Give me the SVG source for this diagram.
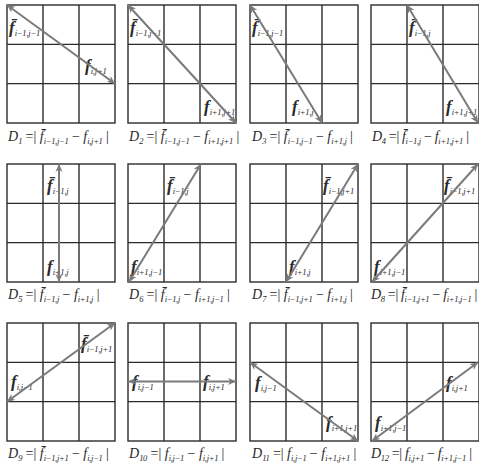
<svg xmlns="http://www.w3.org/2000/svg" width="479" height="470" viewBox="0 0 479 470">
<defs>
<style>
.g rect{fill:none;stroke:#2b2b2b;stroke-width:1.4}
.g line{stroke:#2b2b2b;stroke-width:1.4}
.arr line{stroke:#7a7a7a;stroke-width:2;marker-start:url(#ah);marker-end:url(#ah)}
text{font-family:"Liberation Serif","Times New Roman",serif;fill:#2a2a2a}
.lbl{font-size:17px;font-style:italic;font-weight:bold}
.s{font-size:8.5px;font-weight:normal;font-style:italic;letter-spacing:-0.2px}
.eq{font-size:14px}
.c4{letter-spacing:-0.35px}
.it{font-style:italic}
.es{font-size:8.5px;font-style:italic;letter-spacing:-0.3px}
</style>
<marker id="ah" viewBox="0 0 10 10" refX="10" refY="5" markerWidth="4" markerHeight="4" orient="auto-start-reverse">
<path d="M0,0.5 L10,5 L0,9.5 L3,5 z" fill="#7a7a7a"/>
</marker>
<g id="grid" class="g">
<rect x="0" y="0" width="108" height="118"/>
<line x1="36" y1="0" x2="36" y2="118"/>
<line x1="72" y1="0" x2="72" y2="118"/>
<line x1="0" y1="39.33" x2="108" y2="39.33"/>
<line x1="0" y1="78.67" x2="108" y2="78.67"/>
</g>
</defs>
<rect width="479" height="470" fill="#ffffff"/>

<g id="p1"><use href="#grid" x="7" y="5"/>
<text class="lbl" x="9" y="33">f&#x0304;<tspan class="s" dy="3">i−1,j−1</tspan></text>
<text class="lbl" x="85" y="71">f<tspan class="s" dy="3">i,j+1</tspan></text>
<text class="eq" x="8" y="141"><tspan class="it">D</tspan><tspan class="es" dy="3">1</tspan><tspan dy="-3"> =| </tspan><tspan class="it">f&#x0304;</tspan><tspan class="es" dy="3">i−1,j−1</tspan><tspan dy="-3"> − </tspan><tspan class="it">f</tspan><tspan class="es" dy="3">i,j+1</tspan><tspan dy="-3"> |</tspan></text>
</g>
<g id="p2"><use href="#grid" x="128" y="5"/>
<text class="lbl" x="130" y="33">f&#x0304;<tspan class="s" dy="3">i−1,j−1</tspan></text>
<text class="lbl" x="204" y="112">f<tspan class="s" dy="3">i+1,j+1</tspan></text>
<text class="eq" x="129" y="141"><tspan class="it">D</tspan><tspan class="es" dy="3">2</tspan><tspan dy="-3"> =| </tspan><tspan class="it">f&#x0304;</tspan><tspan class="es" dy="3">i−1,j−1</tspan><tspan dy="-3"> − </tspan><tspan class="it">f</tspan><tspan class="es" dy="3">i+1,j+1</tspan><tspan dy="-3"> |</tspan></text>
</g>
<g id="p3"><use href="#grid" x="250" y="5"/>
<text class="lbl" x="252" y="33">f&#x0304;<tspan class="s" dy="3">i−1,j−1</tspan></text>
<text class="lbl" x="292" y="112">f<tspan class="s" dy="3">i+1,j</tspan></text>
<text class="eq" x="252" y="141"><tspan class="it">D</tspan><tspan class="es" dy="3">3</tspan><tspan dy="-3"> =| </tspan><tspan class="it">f&#x0304;</tspan><tspan class="es" dy="3">i−1,j−1</tspan><tspan dy="-3"> − </tspan><tspan class="it">f</tspan><tspan class="es" dy="3">i+1,j</tspan><tspan dy="-3"> |</tspan></text>
</g>
<g id="p4"><use href="#grid" x="371" y="5"/>
<text class="lbl" x="409" y="33">f&#x0304;<tspan class="s" dy="3">i−1,j</tspan></text>
<text class="lbl" x="446" y="112">f<tspan class="s" dy="3">i+1,j+1</tspan></text>
<text class="eq c4" x="372" y="141"><tspan class="it">D</tspan><tspan class="es" dy="3">4</tspan><tspan dy="-3"> =| </tspan><tspan class="it">f&#x0304;</tspan><tspan class="es" dy="3">i−1,j</tspan><tspan dy="-3"> − </tspan><tspan class="it">f</tspan><tspan class="es" dy="3">i+1,j+1</tspan><tspan dy="-3"> |</tspan></text>
</g>

<g id="p5"><use href="#grid" x="7" y="164"/>
<text class="lbl" x="47" y="191">f&#x0304;<tspan class="s" dy="3">i−1,j</tspan></text>
<text class="lbl" x="47" y="272">f<tspan class="s" dy="3">i+1,j</tspan></text>
<text class="eq" x="8" y="299"><tspan class="it">D</tspan><tspan class="es" dy="3">5</tspan><tspan dy="-3"> =| </tspan><tspan class="it">f&#x0304;</tspan><tspan class="es" dy="3">i−1,j</tspan><tspan dy="-3"> − </tspan><tspan class="it">f</tspan><tspan class="es" dy="3">i+1,j</tspan><tspan dy="-3"> |</tspan></text>
</g>
<g id="p6"><use href="#grid" x="128" y="164"/>
<text class="lbl" x="167" y="191">f&#x0304;<tspan class="s" dy="3">i−1,j</tspan></text>
<text class="lbl" x="131" y="272">f<tspan class="s" dy="3">i+1,j−1</tspan></text>
<text class="eq" x="129" y="299"><tspan class="it">D</tspan><tspan class="es" dy="3">6</tspan><tspan dy="-3"> =| </tspan><tspan class="it">f&#x0304;</tspan><tspan class="es" dy="3">i−1,j</tspan><tspan dy="-3"> − </tspan><tspan class="it">f</tspan><tspan class="es" dy="3">i+1,j−1</tspan><tspan dy="-3"> |</tspan></text>
</g>
<g id="p7"><use href="#grid" x="250" y="164"/>
<text class="lbl" x="323" y="191">f&#x0304;<tspan class="s" dy="3">i−1,j+1</tspan></text>
<text class="lbl" x="289" y="272">f<tspan class="s" dy="3">i+1,j</tspan></text>
<text class="eq" x="252" y="299"><tspan class="it">D</tspan><tspan class="es" dy="3">7</tspan><tspan dy="-3"> =| </tspan><tspan class="it">f&#x0304;</tspan><tspan class="es" dy="3">i−1,j+1</tspan><tspan dy="-3"> − </tspan><tspan class="it">f</tspan><tspan class="es" dy="3">i+1,j</tspan><tspan dy="-3"> |</tspan></text>
</g>
<g id="p8"><use href="#grid" x="371" y="164"/>
<text class="lbl" x="444" y="191">f&#x0304;<tspan class="s" dy="3">i−1,j+1</tspan></text>
<text class="lbl" x="374" y="272">f<tspan class="s" dy="3">i+1,j−1</tspan></text>
<text class="eq c4" x="371" y="299"><tspan class="it">D</tspan><tspan class="es" dy="3">8</tspan><tspan dy="-3"> =| </tspan><tspan class="it">f&#x0304;</tspan><tspan class="es" dy="3">i−1,j+1</tspan><tspan dy="-3"> − </tspan><tspan class="it">f</tspan><tspan class="es" dy="3">i+1,j−1</tspan><tspan dy="-3"> |</tspan></text>
</g>

<g id="p9"><use href="#grid" x="7" y="323"/>
<text class="lbl" x="81" y="349">f&#x0304;<tspan class="s" dy="3">i−1,j+1</tspan></text>
<text class="lbl" x="11" y="387">f<tspan class="s" dy="3">i,j−1</tspan></text>
<text class="eq" x="8" y="458"><tspan class="it">D</tspan><tspan class="es" dy="3">9</tspan><tspan dy="-3"> =| </tspan><tspan class="it">f&#x0304;</tspan><tspan class="es" dy="3">i−1,j+1</tspan><tspan dy="-3"> − </tspan><tspan class="it">f</tspan><tspan class="es" dy="3">i,j−1</tspan><tspan dy="-3"> |</tspan></text>
</g>
<g id="p10"><use href="#grid" x="128" y="323"/>
<text class="lbl" x="132" y="387">f<tspan class="s" dy="3">i,j−1</tspan></text>
<text class="lbl" x="203" y="387">f<tspan class="s" dy="3">i,j+1</tspan></text>
<text class="eq" x="129" y="458"><tspan class="it">D</tspan><tspan class="es" dy="3">10</tspan><tspan dy="-3"> =| </tspan><tspan class="it">f</tspan><tspan class="es" dy="3">i,j−1</tspan><tspan dy="-3"> − </tspan><tspan class="it">f</tspan><tspan class="es" dy="3">i,j+1</tspan><tspan dy="-3"> |</tspan></text>
</g>
<g id="p11"><use href="#grid" x="250" y="323"/>
<text class="lbl" x="255" y="388">f<tspan class="s" dy="3">i,j−1</tspan></text>
<text class="lbl" x="326" y="428">f<tspan class="s" dy="3">i+1,j+1</tspan></text>
<text class="eq" x="252" y="458"><tspan class="it">D</tspan><tspan class="es" dy="3">11</tspan><tspan dy="-3"> =| </tspan><tspan class="it">f</tspan><tspan class="es" dy="3">i,j−1</tspan><tspan dy="-3"> − </tspan><tspan class="it">f</tspan><tspan class="es" dy="3">i+1,j+1</tspan><tspan dy="-3"> |</tspan></text>
</g>
<g id="p12"><use href="#grid" x="371" y="323"/>
<text class="lbl" x="446" y="388">f<tspan class="s" dy="3">i,j+1</tspan></text>
<text class="lbl" x="375" y="428">f<tspan class="s" dy="3">i+1,j−1</tspan></text>
<text class="eq c4" x="371" y="458"><tspan class="it">D</tspan><tspan class="es" dy="3">12</tspan><tspan dy="-3"> =| </tspan><tspan class="it">f</tspan><tspan class="es" dy="3">i,j+1</tspan><tspan dy="-3"> − </tspan><tspan class="it">f</tspan><tspan class="es" dy="3">i+1,j−1</tspan><tspan dy="-3"> |</tspan></text>
</g>

<g id="connectors" class="arr">
<line x1="7" y1="5" x2="115" y2="83.7"/>
<line x1="128" y1="5" x2="236" y2="123"/>
<line x1="250" y1="5" x2="322" y2="123"/>
<line x1="407" y1="5" x2="478" y2="123"/>
<line x1="59" y1="164" x2="59" y2="282"/>
<line x1="129" y1="282" x2="201" y2="164"/>
<line x1="286" y1="282" x2="358" y2="164"/>
<line x1="372" y1="282" x2="478" y2="164"/>
<line x1="7" y1="401.7" x2="115" y2="323"/>
<line x1="128" y1="381.5" x2="236" y2="381.5"/>
<line x1="250" y1="362.3" x2="358" y2="441"/>
<line x1="372" y1="441" x2="478" y2="362.3"/>
</g>
</svg>
